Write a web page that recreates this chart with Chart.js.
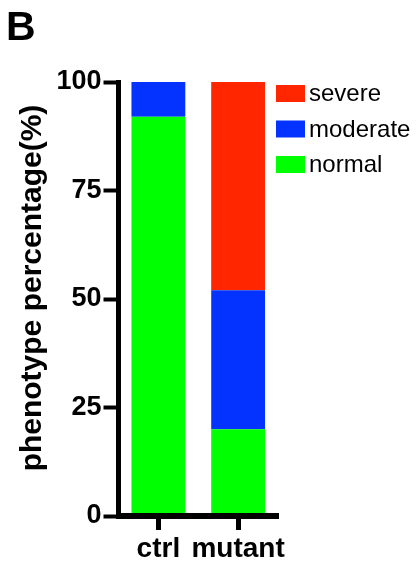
<!DOCTYPE html>
<html>
<head>
<meta charset="utf-8">
<script src="https://cdn.jsdelivr.net/npm/chart.js@4.4.1/dist/chart.umd.min.js"></script>
<style>
  html, body { margin: 0; padding: 0; background: #fff; }
  #wrap { width: 418px; height: 564px; }
</style>
</head>
<body>
<div id="wrap"><canvas id="myChart"></canvas></div>
<script>
// data
var groups = ['ctrl', 'mutant'];
var normalVals = [92, 20];
var moderateVals = [8, 32];
var severeVals = [0, 48];
var yTicks = [0, 25, 50, 75, 100];

var GREEN = '#00FF00';
var BLUE = '#0433FF';
var RED = '#FF2600';

// panel letter, y title and legend drawn on the canvas
var extras = {
    id: 'extras',
    afterDraw: function (chart) {
        var c = chart.ctx;
        c.save();
        c.fillStyle = '#000';
        c.font = 'bold 41px "Liberation Sans", Arial, sans-serif';
        c.textBaseline = 'alphabetic';
        c.textAlign = 'left';
        c.fillText('B', 6, 40);

        c.translate(41, 288);
        c.rotate(-Math.PI / 2);
        c.textAlign = 'center';
        c.font = 'bold 30px "Liberation Sans", Arial, sans-serif';
        c.fillText('phenotype percentage(%)', 0, 0);
        c.restore();

        // legend, top item = last dataset
        c.save();
        var sets = chart.data.datasets.slice().reverse();
        c.font = '24px "Liberation Sans", Arial, sans-serif';
        c.textBaseline = 'middle';
        sets.forEach(function (ds, i) {
            var cy = 93.5 + i * 35.5;
            c.fillStyle = ds.backgroundColor;
            c.fillRect(276, cy - 8.5, 29, 17);
            c.fillStyle = '#000';
            c.fillText(ds.label, 309, cy + 1);
        });
        c.restore();
    }
};

var ctx = document.getElementById('myChart');
var myChart = new Chart(ctx, {
    type: 'bar',
    data: {
        labels: groups,
        datasets: [
            { label: 'normal', data: normalVals, backgroundColor: GREEN },
            { label: 'moderate', data: moderateVals, backgroundColor: BLUE },
            { label: 'severe', data: severeVals, backgroundColor: RED }
        ]
    },
    options: {
        responsive: true,
        maintainAspectRatio: false,
        animation: false,
        categoryPercentage: 1,
        barPercentage: 0.675,
        layout: { padding: { top: 82, right: 140, left: 0, bottom: 0 } },
        plugins: {
            legend: { display: false },
            tooltip: { enabled: false }
        },
        scales: {
            x: {
                stacked: true,
                afterFit: function (s) { s.height = 48; },
                grid: {
                    drawOnChartArea: false,
                    drawTicks: true,
                    tickLength: 14,
                    tickWidth: 5,
                    tickColor: '#000',
                    offset: false
                },
                border: { display: true, color: '#000', width: 6, z: 1 },
                ticks: {
                    color: '#000',
                    padding: 2,
                    maxRotation: 0,
                    minRotation: 0,
                    autoSkip: false,
                    font: { family: '"Liberation Sans", Arial, sans-serif', size: 28, weight: 'bold' }
                }
            },
            y: {
                stacked: true,
                min: 0,
                max: 100,
                afterFit: function (s) { s.width = 118.5; },
                afterBuildTicks: function (s) {
                    s.ticks = yTicks.map(function (v) { return { value: v }; });
                },
                grid: {
                    drawOnChartArea: false,
                    drawTicks: true,
                    tickLength: 15,
                    tickWidth: 4,
                    tickColor: '#000'
                },
                border: { display: true, color: '#000', width: 5, z: 1 },
                ticks: {
                    color: '#000',
                    padding: 2,
                    font: { family: '"Liberation Sans", Arial, sans-serif', size: 27, weight: 'bold' }
                }
            }
        }
    },
    plugins: [extras]
});
</script>
</body>
</html>
